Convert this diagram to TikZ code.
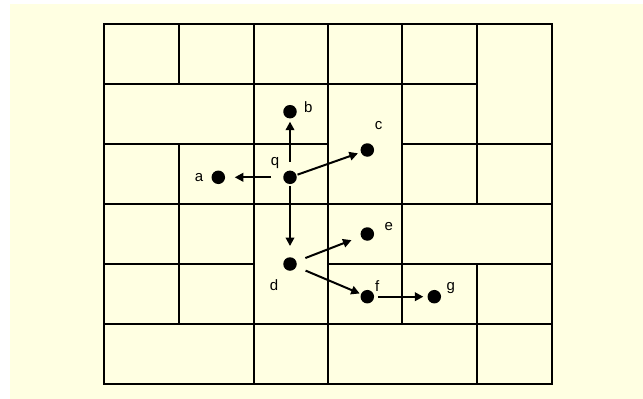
\documentclass[tikz,border=0pt]{standalone}
\usepackage{fontspec}
\setmainfont{Liberation Sans}
\usetikzlibrary{arrows.meta}
\definecolor{bgyellow}{RGB}{255,255,226}
\begin{document}
\begin{tikzpicture}[x=1pt,y=-1pt,
  gridline/.style={line width=2pt,line cap=rect},
  dot/.style={circle,fill=black,inner sep=0pt,minimum size=13.5pt},
  lbl/.style={inner sep=0pt,font=\fontsize{15}{17}\selectfont},
  arr/.style={line width=2pt,-{Triangle[length=8.5pt,width=8.5pt]}}]
\useasboundingbox (0,0) rectangle (643,399);
\fill[bgyellow] (10,4) rectangle (643,399);
% grid
\draw[gridline] (104,24) rectangle (552,384);
\draw[gridline] (104,84) -- (477,84);
\draw[gridline] (104,144) -- (328,144);
\draw[gridline] (402,144) -- (552,144);
\draw[gridline] (104,204) -- (552,204);
\draw[gridline] (104,264) -- (254,264);
\draw[gridline] (328,264) -- (552,264);
\draw[gridline] (104,324) -- (552,324);
\draw[gridline] (179,24) -- (179,84);
\draw[gridline] (179,144) -- (179,324);
\draw[gridline] (254,24) -- (254,384);
\draw[gridline] (328,24) -- (328,384);
\draw[gridline] (402,24) -- (402,324);
\draw[gridline] (477,24) -- (477,204);
\draw[gridline] (477,264) -- (477,384);
% dots
\node[dot] (q) at (290,177.3) {};
\node[dot] (b) at (290,111.7) {};
\node[dot] (a) at (218.3,177.3) {};
\node[dot] (c) at (367.3,150) {};
\node[dot] (d) at (290,264) {};
\node[dot] (e) at (367.3,234) {};
\node[dot] (f) at (367.3,296.7) {};
\node[dot] (g) at (434.3,296.7) {};
% labels
\node[lbl] (lb) at (308.3,106.7) {b};
\node[lbl] (lq) at (275,163.3) {q};
\node[lbl] (la) at (199,177.3) {a};
\node[lbl] (lc) at (378.7,126) {c};
\node[lbl] (ld) at (274,285) {d};
\node[lbl] (le) at (388.7,226.7) {e};
\node[lbl] (lf) at (377.3,285.7) {f};
\node[lbl] (lg) at (450.7,288.3) {g};
% arrows
\draw[arr,shorten <=8.5pt,shorten >=3pt] (q) -- (b);
\draw[arr,shorten <=12pt,shorten >=9.5pt] (q) -- (a);
\draw[arr,shorten <=1pt,shorten >=3pt] (q) -- (c);
\draw[arr,shorten <=1.5pt,shorten >=11pt] (q) -- (d);
\draw[arr,shorten <=9.5pt,shorten >=10pt] (d) -- (e);
\draw[arr,shorten <=10pt,shorten >=1.3pt] (d) -- (f);
\draw[arr,shorten <=3.5pt,shorten >=4pt] (f) -- (g);
\end{tikzpicture}
\end{document}
